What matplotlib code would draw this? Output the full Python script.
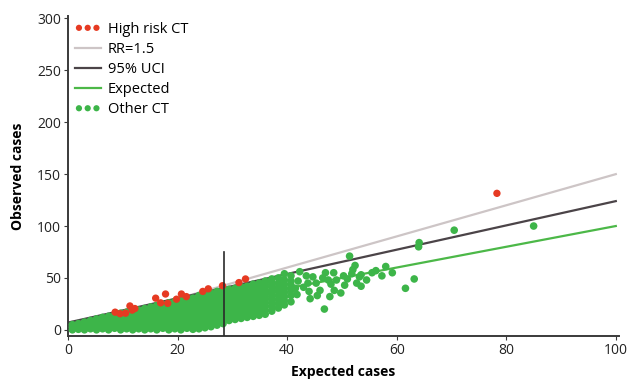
import numpy as np
import matplotlib.pyplot as plt

# ==================== Data ====================
# High risk census tracts (observed above the 95% upper confidence line)
high_risk_x = [8.6, 9.5, 10.5, 11.3, 11.7, 12.2, 16.0, 16.9, 17.8, 18.2, 19.8,
               20.7, 21.6, 24.6, 25.6, 28.2, 31.2, 32.4, 78.3]
high_risk_y = [17.0, 15.5, 16.0, 23.0, 19.0, 20.5, 30.5, 26.0, 34.5, 25.5, 29.5,
               34.5, 32.0, 37.0, 39.5, 42.5, 45.5, 49.0, 131.5]

# Other census tracts, dense part: (expected, [observed ...])
other_ct_dense = [
    (0.8, [0, 2.5, 5]),
    (1.9, [0.5, 3, 6]),
    (3.0, [0, 2, 4.5, 7.5]),
    (4.1, [1, 3.5, 6, 9]),
    (5.2, [0, 2.5, 5.5, 8, 10.5]),
    (6.3, [1, 4, 7, 9.5, 12]),
    (7.4, [0, 3, 6, 8.5, 11, 13]),
    (8.5, [1.5, 4.5, 7.5, 10, 12.5, 14.5]),
    (9.6, [0, 3, 6, 9, 11.5, 14, 16]),
    (10.7, [1, 4, 7, 10, 13, 15.5, 17]),
    (11.8, [0, 2.5, 5.5, 8.5, 11.5, 14.5, 17, 18.5]),
    (12.9, [1, 4, 7, 10, 13, 16, 19]),
    (14.0, [0, 2.5, 5.5, 8.5, 11.5, 14.5, 17.5, 20.5]),
    (15.1, [1, 4, 7, 10, 13, 16, 19, 22]),
    (16.2, [0, 3, 6, 9, 12, 15, 18, 21, 23.5]),
    (17.3, [1.5, 4.5, 7.5, 10.5, 13.5, 16.5, 19.5, 22.5, 24.5]),
    (18.4, [0, 3, 6, 9, 12, 15, 18, 21, 24, 26]),
    (19.5, [1, 4, 7, 10, 13, 16, 19, 22, 25, 27.5]),
    (20.6, [0, 3, 6, 9, 12, 15, 18, 21, 24, 27, 29]),
    (21.7, [1.5, 4.5, 7.5, 10.5, 13.5, 16.5, 19.5, 22.5, 25.5, 28.5, 30]),
    (22.8, [0.5, 3.5, 6.5, 9.5, 12.5, 15.5, 18.5, 21.5, 24.5, 27.5, 30.5]),
    (23.9, [1, 4, 7, 10, 13, 16, 19, 22, 25, 28, 31, 33]),
    (25.0, [2, 5, 8, 11, 14, 17, 20, 23, 26, 29, 32, 34]),
    (26.1, [3, 6, 9, 12, 15, 18, 21, 24, 27, 30, 33, 35.5]),
    (27.2, [4.5, 8, 11, 14, 17, 20, 23, 26, 29, 32, 35, 37]),
    (28.3, [6, 9.5, 12.5, 15.5, 18.5, 21.5, 24.5, 27.5, 30.5, 33.5, 36.5, 38.5]),
    (29.4, [9, 12, 15, 18, 21, 24, 27, 30, 33, 36, 39]),
    (30.5, [10, 13, 16, 19, 22, 25, 28, 31, 34, 37, 40]),
    (31.6, [11, 14, 17, 20, 23, 26, 29, 32, 35, 38, 41.5]),
    (32.7, [12, 15, 18, 21, 24, 27, 30, 33, 36, 39, 42]),
    (33.8, [13, 16.5, 20, 23, 26, 29, 32, 35, 38, 41, 44]),
    (34.9, [14, 18, 21, 24, 27, 30, 33, 36, 39, 42, 45]),
    (36.0, [15, 19, 23, 26, 29, 32, 35, 38, 41, 44, 47]),
    (37.2, [18, 22, 26, 30, 34, 38, 42, 46, 49]),
    (38.4, [21, 25, 29, 33, 37, 41, 45, 50]),
    (39.5, [24, 28, 32, 36, 40, 44, 48, 54]),
    (40.7, [27, 33, 38, 43, 47, 52]),
]

# Other census tracts, scattered part
other_ct_sparse_x = [41.8, 42.3, 43.0, 43.5, 44.2, 44.7, 45.3, 46.0, 46.8, 47.0,
                     47.5, 48.0, 48.6, 49.0, 49.8, 50.3, 51.0, 51.4, 52.0, 52.4,
                     52.7, 53.2, 53.5, 53.5, 55.5, 57.3, 58.0, 59.2, 61.6, 63.2,
                     64.0, 64.1, 70.5, 85.0, 42.0, 44.0, 45.5, 46.5, 48.5, 50.5,
                     41.5, 43.8, 47.8, 51.8, 54.5, 56.2]
other_ct_sparse_y = [34, 56, 41, 52, 30, 51, 45, 38, 20, 55,
                     48, 44, 38, 48, 35.5, 52, 49, 71, 58, 62,
                     45, 51, 42, 53, 55, 52, 61, 55, 40, 49,
                     80, 84, 96, 100, 47, 37, 33, 50, 55, 43,
                     40, 45, 32, 54, 48, 57]

line_x = [0, 100]
rr_y = [0, 150]
uci_y = [7, 124]
expected_y = [0, 100]

cutoff_x = 28.4
cutoff_y = [-6, 75]

# ==================== Plotting ====================
plt.rcParams.update({
    'font.family': ['Open Sans', 'DejaVu Sans'], 'font.size': 10,
    'axes.spines.top': False, 'axes.spines.right': False,
})

GREEN = '#3db549'
RED = '#e63a22'
AXIS = '#3a3a3a'

dense_x = [x for x, ys in other_ct_dense for _ in ys]
dense_y = [y for _, ys in other_ct_dense for y in ys]
other_x = np.array(dense_x + other_ct_sparse_x)
other_y = np.array(dense_y + other_ct_sparse_y)

fig = plt.figure(figsize=(6.27, 3.81), dpi=100)
ax = fig.add_axes([0.1085, 0.118, 0.878, 0.839])

ax.plot(line_x, rr_y, color='#cdc5c6', lw=1.6, label='RR=1.5', zorder=2)
ax.plot(line_x, uci_y, color='#4b4448', lw=1.6, label='95% UCI', zorder=2)
ax.plot(line_x, expected_y, color='#4cb848', lw=1.6, label='Expected', zorder=2)
ax.scatter(other_x, other_y, s=30, color=GREEN, edgecolors='none',
           label='Other CT', zorder=3)
ax.scatter(high_risk_x, high_risk_y, s=28, color=RED, edgecolors='none',
           label='High risk CT', zorder=4)
ax.plot([cutoff_x, cutoff_x], cutoff_y, color='#2a2a2a', lw=1.2, zorder=5)

ax.set_xlim(0, 100.5)
ax.set_ylim(-6, 302)
ax.set_xticks([0, 20, 40, 60, 80, 100])
ax.set_yticks([0, 50, 100, 150, 200, 250, 300])
for side in ['left', 'bottom']:
    ax.spines[side].set_color(AXIS)
    ax.spines[side].set_linewidth(1.4)
ax.tick_params(axis='both', colors=AXIS, length=3, width=0.8, labelsize=10,
               labelcolor='#222222', pad=2)

ax.set_xlabel('Expected cases', fontweight='bold', fontsize=10, labelpad=5)
ax.set_ylabel('Observed cases', fontweight='bold', fontsize=10, labelpad=9)

handles, labels = ax.get_legend_handles_labels()
order = ['High risk CT', 'RR=1.5', '95% UCI', 'Expected', 'Other CT']
hmap = dict(zip(labels, handles))
leg = ax.legend([hmap[k] for k in order], order, loc='upper left', frameon=False,
                scatterpoints=3, scatteryoffsets=[0.5], fontsize=10.5,
                handlelength=1.8, handletextpad=0.5, labelspacing=0.35,
                borderaxespad=0.2, bbox_to_anchor=(-0.004, 1.01))
for h in leg.legend_handles:
    if hasattr(h, 'set_sizes'):
        h.set_sizes([20])

fig.savefig('out.png', dpi=100, facecolor='white')
